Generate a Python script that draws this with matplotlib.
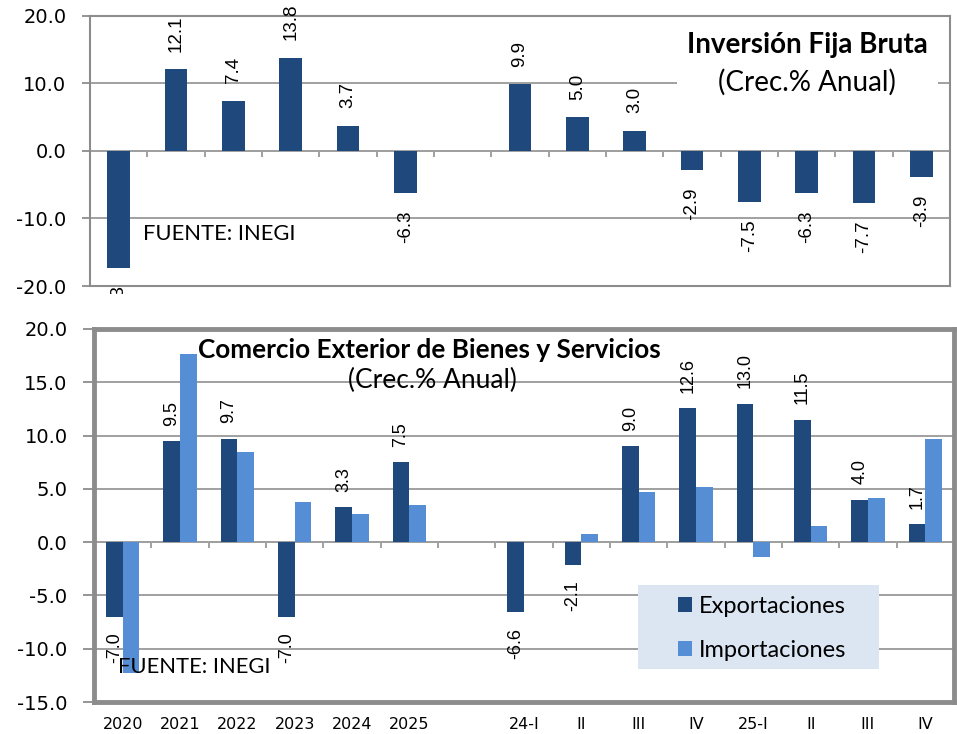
import numpy as np
import matplotlib
matplotlib.use("Agg")
import matplotlib.pyplot as plt
from matplotlib.patches import Rectangle
from matplotlib.transforms import Bbox, TransformedBbox

# categorias (anual + trimestral, con un hueco entre ambos)
years = ["2020", "2021", "2022", "2023", "2024", "2025"]
quarters = ["24-I", "II", "III", "IV", "25-I", "II", "III", "IV"]

# Inversion Fija Bruta (Crec.% anual)
ifb_anual = [-17.3, 12.1, 7.4, 13.8, 3.7, -6.3]
ifb_trim = [9.9, 5.0, 3.0, -2.9, -7.5, -6.3, -7.7, -3.9]

# Comercio exterior
exp_anual = [-7.0, 9.5, 9.7, -7.0, 3.3, 7.5]
exp_trim = [-6.6, -2.1, 9.0, 12.6, 13.0, 11.5, 4.0, 1.7]
imp_anual = [-12.3, 17.7, 8.5, 3.8, 2.6, 3.5]
imp_trim = [np.nan, 0.8, 4.7, 5.2, -1.4, 1.5, 4.1, 9.7]

labels = years + [""] + quarters
ifb = ifb_anual + [np.nan] + ifb_trim
expo = exp_anual + [np.nan] + exp_trim
impo = imp_anual + [np.nan] + imp_trim
x = np.arange(len(labels))

DARK = "#1F497D"
LIGHT = "#558ED5"
GRID = "#A0A0A0"
FRAME = "#8C8C8C"
W, H = 957, 734


def fpx(px, py):
    return px / W, 1 - py / H


fig = plt.figure(figsize=(W / 100, H / 100), dpi=100)
fig.patch.set_facecolor("white")

# ---------------- panel superior ----------------
ax1 = fig.add_axes([90 / W, 1 - 286 / H, 860 / W, 270.3 / H])
ax1.bar(x, ifb, width=0.4, color=DARK, zorder=2)
ax1.set_xlim(-0.5, len(labels) - 0.5)
ax1.set_ylim(-20, 20)
ax1.set_yticks([-20, -10, 0, 10, 20])
ax1.set_yticklabels([f"{v:.1f}" for v in [-20, -10, 0, 10, 20]],
                    fontsize=14, family="DejaVu Sans")
ax1.set_xticks([])
ax1.grid(axis="y", color=GRID, linewidth=1.4)
ax1.set_axisbelow(True)
for s in ax1.spines.values():
    s.set_color(FRAME)
    s.set_linewidth(1.5)
ax1.tick_params(axis="y", length=6, width=1.3, color=FRAME, pad=11)
ax1.axhline(0, color=GRID, linewidth=1.4, zorder=1)
ax1.vlines(x[:-1] + 0.5, 0, -0.9, color=GRID, linewidth=1.4, zorder=1)

for xi, v in zip(x, ifb):
    if np.isnan(v):
        continue
    off = 12.5 if v >= 0 else -12.5
    t = ax1.annotate(f"{v:.1f}", (xi, v), xytext=(0, off), textcoords="offset points",
                     rotation=90, ha="center", va="bottom" if v >= 0 else "top",
                     fontsize=13.5, family="Liberation Sans", annotation_clip=False)
    t.set_clip_on(True)
    t.set_clip_box(TransformedBbox(Bbox.from_extents(0, 1 - 294 / H, 1, 1), fig.transFigure))

ax1.add_patch(Rectangle((0.683, 0.69), 0.303, 0.265, transform=ax1.transAxes,
                        facecolor="white", edgecolor="none", zorder=1.5))
ax1.text(0.834, 0.892, "Inversión Fija Bruta", transform=ax1.transAxes, ha="center",
         va="center", fontsize=20, fontweight="bold", family="Lato", zorder=3)
ax1.text(0.834, 0.755, "(Crec.% Anual)", transform=ax1.transAxes, ha="center",
         va="center", fontsize=20, family="Lato", zorder=3)
fig.text(*fpx(143, 234), "FUENTE: INEGI", ha="left", va="center", fontsize=15.8, family="Lato")

# ---------------- panel inferior ----------------
ax2 = fig.add_axes([94 / W, 1 - 702 / H, 860 / W, 373 / H])
bw = 0.29
ax2.bar(x - bw / 2, expo, width=bw, color=DARK, label="Exportaciones", zorder=2)
ax2.bar(x + bw / 2, impo, width=bw, color=LIGHT, label="Importaciones", zorder=2)
ax2.set_xlim(-0.5, len(labels) - 0.5)
ax2.set_ylim(-15, 20)
yt = np.arange(-15, 21, 5)
ax2.set_yticks(yt)
ax2.set_yticklabels([f"{v:.1f}" for v in yt], fontsize=14, family="DejaVu Sans")
ax2.set_xticks(x)
ax2.set_xticklabels(labels, fontsize=11.5, family="DejaVu Sans")
ax2.tick_params(axis="x", length=0, pad=11)
ax2.tick_params(axis="y", length=8, width=1.3, color=FRAME, pad=11)
ax2.grid(axis="y", color=GRID, linewidth=1.4)
ax2.set_axisbelow(True)
for s in ax2.spines.values():
    s.set_color(FRAME)
    s.set_linewidth(3.5)
ax2.axhline(0, color=GRID, linewidth=1.4, zorder=1)
ax2.vlines(x[:-1] + 0.5, 0, -0.55, color=GRID, linewidth=1.4, zorder=1)

for xi, v in zip(x, expo):
    if np.isnan(v):
        continue
    off = 11 if v >= 0 else -11
    ax2.annotate(f"{v:.1f}", (xi - bw / 2, v), xytext=(0, off), textcoords="offset points",
                 rotation=90, ha="center", va="bottom" if v >= 0 else "top",
                 fontsize=13, family="Liberation Sans", zorder=4)

fig.text(*fpx(429, 350), "Comercio Exterior de Bienes y Servicios", ha="center", va="center",
         fontsize=18.8, fontweight="bold", family="Lato")
fig.text(*fpx(432, 380), "(Crec.% Anual)", ha="center", va="center", fontsize=19, family="Lato")
fig.text(*fpx(118, 667), "FUENTE: INEGI", ha="left", va="center", fontsize=15.8, family="Lato",
         zorder=5)

# leyenda con fondo propio
x0, y0 = fpx(638, 669)
x1, y1 = fpx(879, 585)
ax2.add_patch(Rectangle((x0, y0), x1 - x0, y1 - y0, transform=fig.transFigure,
                        facecolor="#DCE6F2", edgecolor="none", zorder=3))
leg = ax2.legend(loc="upper left", bbox_to_anchor=fpx(678, 596), bbox_transform=fig.transFigure,
                 frameon=False, prop={"family": "Lato", "size": 17},
                 handlelength=0.6, handleheight=0.6, handletextpad=0.3,
                 labelspacing=0.98, borderpad=0, borderaxespad=0)
leg.set_zorder(6)

fig.savefig("out.png", dpi=100)
